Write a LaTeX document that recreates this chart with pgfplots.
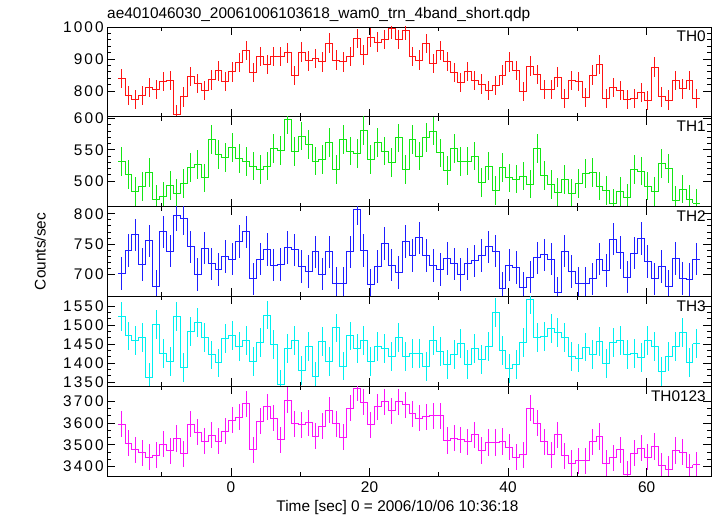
\documentclass[border=0pt]{standalone}
\usepackage{fontspec}
\setmainfont{Liberation Sans}
\newfontfamily\tickfont{Liberation Sans}[LetterSpace=14]
\usepackage{pgfplots}
\usepackage{pgfplotstable}
\pgfplotsset{compat=1.18}

\definecolor{cR}{RGB}{255,20,20}
\definecolor{cG}{RGB}{20,230,20}
\definecolor{cB}{RGB}{30,30,255}
\definecolor{cC}{RGB}{0,240,240}
\definecolor{cM}{RGB}{250,20,250}

\pgfplotstableread{
x th0 th1 th2 th3 th0123
-15.8 839 531 701 1521 3595
-14.8 787 511 739 1471 3508
-13.8 773 483 765 1459 3478
-12.8 787 491 716 1468 3463
-11.8 811 514 755 1361 3443
-10.8 805 470 680 1500 3452
-9.8 829 475 770 1426 3502
-8.8 834 493 738 1405 3472
-7.8 727 480 798 1523 3529
-6.8 782 496 792 1388 3458
-5.8 845 522 745 1483 3595
-4.8 824 526 699 1507 3558
-3.8 801 505 743 1468 3517
-2.8 835 567 717 1421 3545
-1.8 863 542 708 1400 3517
-0.8 830 538 729 1464 3562
0.2 860 554 725 1473 3612
1.2 889 536 754 1443 3626
2.2 926 531 770 1458 3688
3.2 857 524 692 1403 3478
4.2 907 519 725 1455 3608
5.2 882 524 741 1526 3674
6.2 907 552 715 1449 3623
7.2 909 549 716 1344 3523
8.2 919 599 744 1439 3705
9.2 848 547 740 1458 3597
10.2 922 572 713 1380 3592
11.2 894 559 704 1443 3602
12.2 901 532 737 1364 3540
13.2 891 534 700 1457 3586
14.2 950 562 737 1405 3658
15.2 897 518 685 1492 3597
16.2 891 567 684 1392 3535
17.2 907 548 737 1471 3668
18.2 965 544 808 1439 3760
19.2 913 581 739 1460 3695
20.2 968 534 682 1403 3591
21.2 953 562 713 1443 3674
22.2 961 548 751 1439 3698
23.2 994 530 715 1416 3657
24.2 960 569 703 1466 3698
25.2 988 518 754 1418 3683
26.2 909 567 731 1425 3642
27.2 897 540 760 1424 3623
28.2 948 570 731 1390 3628
29.2 885 580 714 1458 3634
30.2 927 545 708 1431 3634
31.2 892 517 726 1395 3520
32.2 857 552 717 1423 3531
33.2 826 531 699 1450 3523
34.2 862 532 717 1396 3514
35.2 833 540 722 1439 3546
36.2 822 498 731 1408 3474
37.2 802 524 745 1444 3511
38.2 818 485 738 1532 3511
39.2 850 522 676 1433 3515
40.2 891 505 715 1385 3489
41.2 865 503 711 1396 3443
42.2 800 508 677 1455 3455
43.2 878 495 695 1568 3668
44.2 851 552 727 1466 3600
45.2 806 509 732 1470 3514
46.2 804 494 725 1490 3455
47.2 844 482 669 1481 3546
48.2 777 502 738 1467 3449
49.2 834 480 704 1416 3415
50.2 830 496 685 1413 3426
51.2 779 512 685 1442 3426
52.2 850 514 692 1423 3514
53.2 882 492 725 1457 3538
54.2 777 485 706 1398 3415
55.2 812 464 758 1453 3440
56.2 802 483 736 1460 3477
57.2 774 473 695 1422 3365
58.2 778 519 735 1426 3462
59.2 795 516 759 1414 3485
60.2 771 492 721 1460 3443
61.2 875 483 692 1443 3492
62.2 782 528 713 1378 3403
63.2 772 520 679 1416 3388
64.2 834 469 726 1444 3474
65.2 807 487 693 1479 3466
66.2 833 470 691 1402 3397
67.2 776 464 725 1451 3409
}\lc

\pgfplotsset{panel/.style={
  scale only axis, width=604pt, height=89.8pt,
  xmin=-17.9, xmax=69.3,
  anchor=south west,
  axis line style={black, line width=0.8pt},
  xtick={0,20,40,60}, minor xtick={-10,10,30,50},
  xticklabels={},
  tick align=inside,
  major tick length=8pt, minor tick length=4pt,
  every tick/.style={black, line width=0.8pt},
  xtick pos=both, ytick pos=both,
  /pgf/number format/assume math mode=true,
  /pgf/number format/1000 sep={},
  yticklabel style={font=\tickfont\fontsize{15.4}{16}\selectfont, inner sep=0pt, xshift=-3pt},
  xticklabel style={font=\fontsize{15.4}{16}\selectfont, inner sep=0pt, yshift=-6pt},
}}

\newcommand{\panelplots}[4]{%
  \addplot[#2, line width=1pt, mark=none, draw opacity=0, error bars/.cd, y dir=both, y fixed=#3, error mark=none, error bar style={#2, line width=1pt, draw opacity=1}] table[x=x, y=#1]{\lc};
  \addplot[#2, line width=1pt, const plot mark left, mark=none] table[x expr=\thisrow{x}-0.5, y=#1]{\lc};
  \addplot[#2, line width=1pt] coordinates {(66.7,#4) (67.7,#4)};
}
\newcommand{\lab}[1]{\node[anchor=base east, font=\fontsize{15.4}{16}\selectfont, inner sep=0pt] at (axis description cs:0.9917,0.833) {#1};}

\begin{document}
\begin{tikzpicture}[x=1pt,y=1pt]
\useasboundingbox (0,0) rectangle (717,516);

\begin{axis}[panel, at={(107pt,399.2pt)}, ymin=720, ymax=1000, ytick={800,900,1000}, minor y tick num=4]
\panelplots{th0}{cR}{30}{776}
\lab{TH0}
\end{axis}

\begin{axis}[panel, at={(107pt,309.4pt)}, ymin=459, ymax=603, ytick={500,550,600}, minor y tick num=4]
\panelplots{th1}{cG}{23}{464}
\lab{TH1}
\end{axis}

\begin{axis}[panel, at={(107pt,219.6pt)}, ymin=663, ymax=812, ytick={700,750,800}, minor y tick num=4]
\panelplots{th2}{cB}{27}{725}
\lab{TH2}
\end{axis}

\begin{axis}[panel, at={(107pt,129.8pt)}, ymin=1339, ymax=1575, ytick={1350,1400,1450,1500,1550}, minor y tick num=2]
\panelplots{th3}{cC}{38}{1451}
\lab{TH3}
\end{axis}

\begin{axis}[panel, at={(107pt,40pt)}, ymin=3357, ymax=3769, ytick={3400,3500,3600,3700}, minor y tick num=2, xticklabels={0,20,40,60}]
\panelplots{th0123}{cM}{60}{3409}
\lab{TH0123}
\end{axis}

\node[anchor=base west, font=\fontsize{15.4}{18}\selectfont, inner sep=0pt] at (107,497.5) {ae401046030\_20061006103618\_wam0\_trn\_4band\_short.qdp};
\node[rotate=90, font=\fontsize{15.4}{18}\selectfont, inner sep=0pt] at (40,264.5) {Counts/sec};
\node[anchor=base, font=\fontsize{15.4}{18}\selectfont, inner sep=0pt] at (397.5,4.3) {Time [sec] 0 = 2006/10/06 10:36:18};
\end{tikzpicture}
\end{document}
